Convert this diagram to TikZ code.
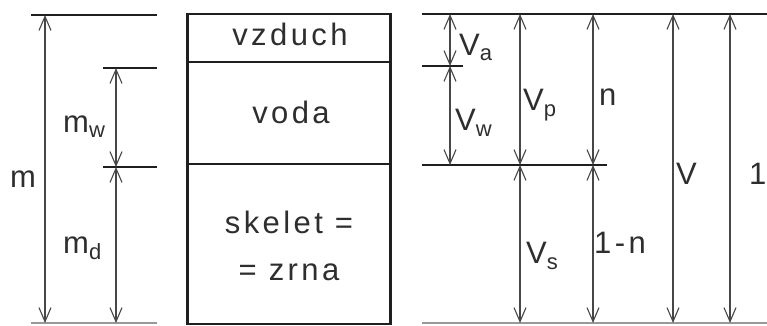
\documentclass[tikz,border=0pt]{standalone}
\usepackage{fontspec}
\setmainfont{Liberation Sans}[LetterSpace=11]
\usetikzlibrary{arrows.meta}
\newcommand{\sbx}[2]{\raisebox{-#1pt}{\fontsize{22}{23}\selectfont #2}}
\begin{document}
\begin{tikzpicture}[x=1pt,y=-1pt,
  level/.style={line width=2.4pt,draw=black!88},
  dim/.style={line width=1.1pt,draw=black!72,{Straight Barb[length=14pt,width=12pt,line width=1.1pt]}-{Straight Barb[length=14pt,width=12pt,line width=1.1pt]}},
  lab/.style={anchor=base west,inner sep=0pt,font=\fontsize{31}{35}\selectfont,text=black!82},
  txt/.style={anchor=base,inner sep=0pt,font=\fontsize{31}{35}\selectfont,text=black!82},
  phase/.style={draw=black!88,line width=2.4pt,minimum width=203pt,inner sep=0pt}]
\useasboundingbox (0,0) rectangle (767,325);
% ---- mass column
\coordinate (mL0) at (31,15);  \coordinate (mR0) at (157,15);
\coordinate (mL1) at (103,68); \coordinate (mR1) at (157,68);
\coordinate (mL2) at (103,167);\coordinate (mR2) at (157,167);
\coordinate (mL3) at (31,323); \coordinate (mR3) at (157,323);
\draw[level] (mL0) -- (mR0);
\draw[level] (mL1) -- (mR1);
\draw[level] (mL2) -- (mR2);
\draw[level,line width=1.5pt,draw=black!40] (mL3) -- (mR3);
\coordinate (mT) at (45,15); \coordinate (mB) at (45,323);
\coordinate (mwT) at (116,68); \coordinate (mwB) at (116,167); \coordinate (mdB) at (116,323);
\draw[dim] (mT) -- (mB);
\draw[dim] (mwT) -- (mwB);
\draw[dim] (mwB) -- (mdB);
\node[lab] (m) at (10,187) {m};
\node[lab] (mw) at (63,132) {m\sbx{5}{w}};
\node[lab] (md) at (63,253) {m\sbx{6}{d}};
% ---- phase column
\node[phase,minimum height=48pt] (air) at (289,38) {};
\node[phase,minimum height=102pt] (water) at (289,113) {};
\node[phase,minimum height=160pt] (solid) at (289,244) {};
\node[txt] (airt) at (290,45) {vzduch};
\node[txt] (watert) at (291,123) {voda};
\node[txt] (solidt1) at (289,233) {skelet =};
\node[txt] (solidt2) at (289,280) {= zrna};
% ---- volume column
\coordinate (vL0) at (422,14); \coordinate (vR0) at (767,14);
\coordinate (vL1) at (422,66); \coordinate (vR1) at (463,66);
\coordinate (vL2) at (422,165);\coordinate (vR2) at (607,165);
\coordinate (vL3) at (422,323);\coordinate (vR3) at (767,323);
\draw[level] (vL0) -- (vR0);
\draw[level] (vL1) -- (vR1);
\draw[level] (vL2) -- (vR2);
\draw[level,line width=1.5pt,draw=black!40] (vL3) -- (vR3);
\coordinate (aT) at (450,14); \coordinate (aB) at (450,66); \coordinate (wB) at (450,165);
\coordinate (pT) at (520,14); \coordinate (pB) at (520,165); \coordinate (sB) at (520,323);
\coordinate (nT) at (593,14); \coordinate (nB) at (593,165); \coordinate (n1B) at (593,323);
\coordinate (VT) at (673,14); \coordinate (VB) at (673,323);
\coordinate (oT) at (730,14); \coordinate (oB) at (730,323);
\draw[dim] (aT) -- (aB);
\draw[dim] (aB) -- (wB);
\draw[dim] (pT) -- (pB);
\draw[dim] (pB) -- (sB);
\draw[dim] (nT) -- (nB);
\draw[dim] (nB) -- (n1B);
\draw[dim] (VT) -- (VB);
\draw[dim] (oT) -- (oB);
\node[lab] (Va) at (459,55) {V\sbx{5}{a}};
\node[lab] (Vw) at (455,130) {V\sbx{6}{w}};
\node[lab] (Vp) at (523,110) {V\sbx{6}{p}};
\node[lab] (n) at (599,105) {n};
\node[lab] (Vs) at (526,263) {V\sbx{6}{s}};
\node[lab] (one-n) at (594,253) {1-n};
\node[lab] (V) at (676,184) {V};
\node[lab] (one) at (749,184) {1};
\end{tikzpicture}
\end{document}
